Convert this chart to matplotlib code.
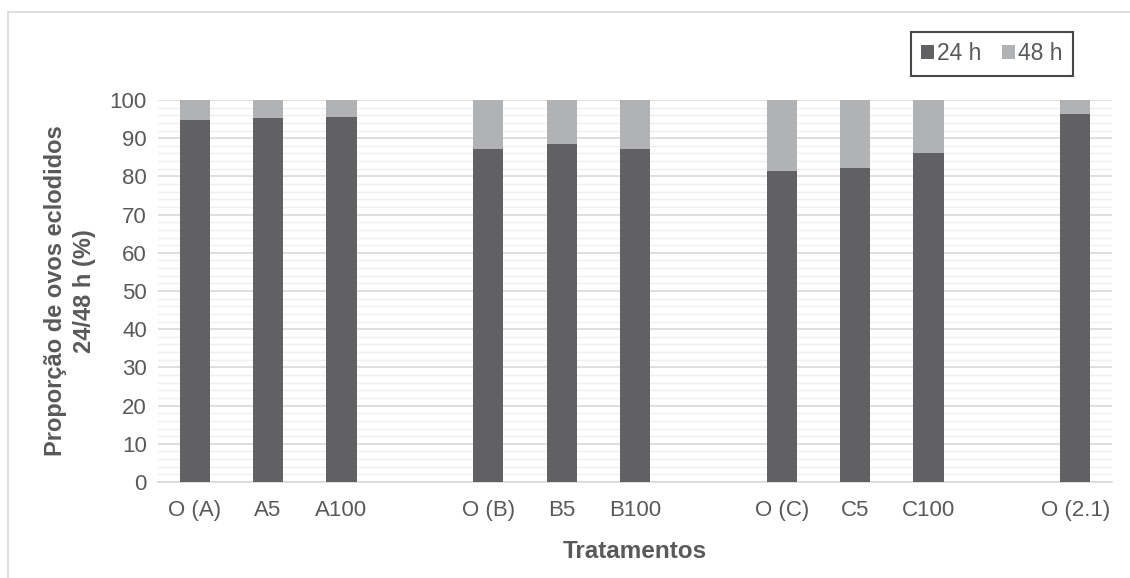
import matplotlib
matplotlib.use("Agg")
import matplotlib.pyplot as plt
from matplotlib.lines import Line2D
import numpy as np

plt.rcParams['font.family'] = ['Liberation Sans', 'DejaVu Sans']

categories = ["O (A)", "A5", "A100", "", "O (B)", "B5", "B100", "", "O (C)", "C5", "C100", "", "O (2.1)"]
h24 = [94.8, 95.2, 95.5, None, 87.1, 88.4, 87.3, None, 81.5, 82.2, 86.2, None, 96.3]
h48 = [None if v is None else round(100 - v, 1) for v in h24]
series_names = ["24 h", "48 h"]
yticks = list(range(0, 101, 10))

W, H = 1130, 578
fig = plt.figure(figsize=(W / 100, H / 100), dpi=100)
ax = fig.add_axes([158 / W, 1 - 482 / H, (1112 - 158) / W, (482 - 100) / H])

dark = "#616163"
light = "#b1b2b4"
text_col = "#595959"

x = np.arange(len(categories))
idx = [i for i, v in enumerate(h24) if v is not None]
v24 = [h24[i] for i in idx]
v48 = [h48[i] for i in idx]
ax.bar(x[idx], v24, width=0.41, color=dark, label=series_names[0], zorder=3)
ax.bar(x[idx], v48, bottom=v24, width=0.41, color=light, label=series_names[1], zorder=3)

ax.set_xlim(-0.5, len(categories) - 0.5)
ax.set_ylim(0, 100)
ax.set_yticks(yticks)
ax.set_yticks(np.arange(0, 101, 2), minor=True)
ax.grid(axis='y', which='major', color="#d9d9d9", linewidth=1.2, zorder=0)
ax.grid(axis='y', which='minor', color="#efefef", linewidth=1.0, zorder=0)
ax.set_xticks(x[idx])
ax.set_xticklabels([categories[i] for i in idx])
ax.tick_params(axis='both', which='both', length=0, labelsize=16, colors=text_col)
ax.tick_params(axis='x', pad=13)
ax.tick_params(axis='y', pad=8)
for s in ['top', 'right', 'left']:
    ax.spines[s].set_visible(False)
ax.spines['bottom'].set_color("#d9d9d9")
ax.spines['bottom'].set_linewidth(1.2)

ax.set_ylabel("Proporção de ovos eclodidos\n24/48 h (%)", fontsize=17, fontweight='bold',
              color=text_col, labelpad=10, linespacing=1.3)
ax.set_xlabel("Tratamentos", fontsize=17.5, fontweight='bold', color=text_col, labelpad=14)

leg = fig.legend(loc='center', bbox_to_anchor=(992 / W, 1 - 54 / H), ncol=2, frameon=True,
                 fontsize=16.5, handlelength=0.55, handleheight=0.55, handletextpad=0.15,
                 columnspacing=0.9, borderpad=0.45, fancybox=False, labelcolor=text_col)
leg.get_frame().set_edgecolor("#1a1a1a")
leg.get_frame().set_linewidth(1.5)

fig.add_artist(Line2D([8 / W, 8 / W], [0, 1 - 12 / H], color="#d9d9d9", linewidth=1.2))
fig.add_artist(Line2D([8 / W, 1], [1 - 12 / H, 1 - 12 / H], color="#d9d9d9", linewidth=1.2))

fig.savefig("out.png", dpi=100, facecolor="white")
